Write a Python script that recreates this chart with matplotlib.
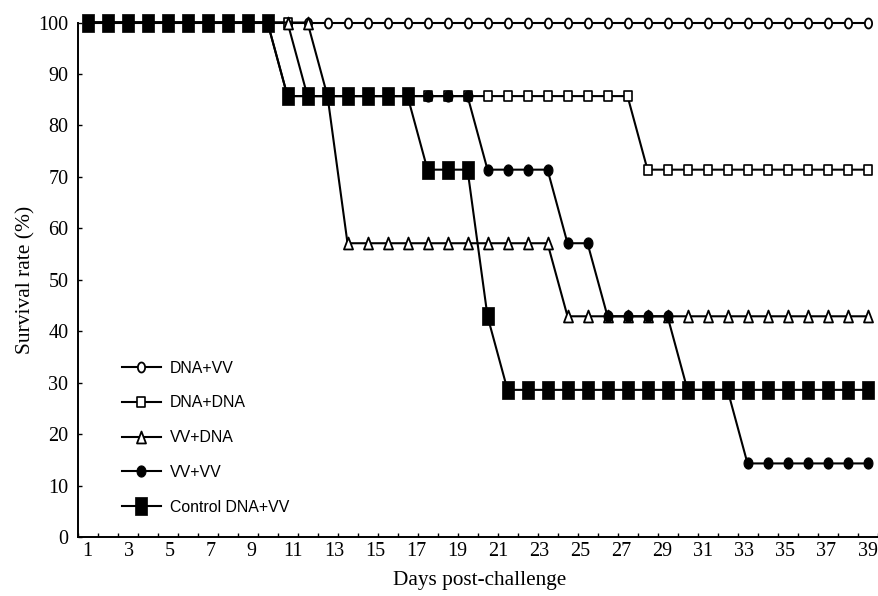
import numpy as np
import matplotlib
matplotlib.use("Agg")
import matplotlib.pyplot as plt
from matplotlib.path import Path

# ---------------- data ----------------
days = list(range(1, 41))
x_tick_labels = ['1', '3', '5', '7', '9', '11', '13', '15', '17', '19',
                 '21', '23', '25', '27', '29', '31', '33', '35', '37', '39']
y_ticks = [0, 10, 20, 30, 40, 50, 60, 70, 80, 90, 100]

series_names = ['DNA+VV', 'DNA+DNA', 'VV+DNA', 'VV+VV', 'Control DNA+VV']

dna_vv = [100, 100, 100, 100, 100, 100, 100, 100, 100, 100,
          100, 100, 100, 100, 100, 100, 100, 100, 100, 100,
          100, 100, 100, 100, 100, 100, 100, 100, 100, 100,
          100, 100, 100, 100, 100, 100, 100, 100, 100, 100]
dna_dna = [100, 100, 100, 100, 100, 100, 100, 100, 100, 100,
           100, 85.7, 85.7, 85.7, 85.7, 85.7, 85.7, 85.7, 85.7, 85.7,
           85.7, 85.7, 85.7, 85.7, 85.7, 85.7, 85.7, 85.7, 71.4, 71.4,
           71.4, 71.4, 71.4, 71.4, 71.4, 71.4, 71.4, 71.4, 71.4, 71.4]
vv_dna = [100, 100, 100, 100, 100, 100, 100, 100, 100, 100,
          100, 100, 85.7, 57.1, 57.1, 57.1, 57.1, 57.1, 57.1, 57.1,
          57.1, 57.1, 57.1, 57.1, 42.9, 42.9, 42.9, 42.9, 42.9, 42.9,
          42.9, 42.9, 42.9, 42.9, 42.9, 42.9, 42.9, 42.9, 42.9, 42.9]
vv_vv = [100, 100, 100, 100, 100, 100, 100, 100, 100, 100,
         85.7, 85.7, 85.7, 85.7, 85.7, 85.7, 85.7, 85.7, 85.7, 85.7,
         71.4, 71.4, 71.4, 71.4, 57.1, 57.1, 42.9, 42.9, 42.9, 42.9,
         28.6, 28.6, 28.6, 14.3, 14.3, 14.3, 14.3, 14.3, 14.3, 14.3]
control = [100, 100, 100, 100, 100, 100, 100, 100, 100, 100,
           85.7, 85.7, 85.7, 85.7, 85.7, 85.7, 85.7, 71.4, 71.4, 71.4,
           42.9, 28.6, 28.6, 28.6, 28.6, 28.6, 28.6, 28.6, 28.6, 28.6,
           28.6, 28.6, 28.6, 28.6, 28.6, 28.6, 28.6, 28.6, 28.6, 28.6]

# ---------------- marker shapes (slightly tall, as in the reference) ----------------
def ellipse(aspect):
    t = np.linspace(0, 2 * np.pi, 64)
    v = np.column_stack([aspect * np.cos(t), np.sin(t)])
    return Path(v, closed=True)

def rect(aspect):
    v = [(-aspect, -1), (aspect, -1), (aspect, 1), (-aspect, 1), (-aspect, -1)]
    return Path(v, closed=True)

def tri(aspect):
    v = [(-aspect, -1), (aspect, -1), (0, 1), (-aspect, -1)]
    return Path(v, closed=True)

styles = [
    dict(marker=ellipse(0.72), ms=7.2, mfc='white', mec='black', mew=1.3),
    dict(marker=rect(0.72), ms=7.4, mfc='white', mec='black', mew=1.2),
    dict(marker=tri(0.76), ms=8.6, mfc='white', mec='black', mew=1.3),
    dict(marker=ellipse(0.8), ms=8.0, mfc='black', mec='black', mew=0.8),
    dict(marker=rect(0.72), ms=12.6, mfc='black', mec='black', mew=0.5),
]
all_series = [dna_vv, dna_dna, vv_dna, vv_vv, control]

# ---------------- figure ----------------
fig = plt.figure(figsize=(8.79, 5.96), dpi=100)
ax = fig.add_axes([0.0882, 0.0990, 0.9101, 0.8632])

for name, vals, st in zip(series_names, all_series, styles):
    ax.plot(days, vals, color='black', lw=1.5, label=name, clip_on=False, **st)

ax.set_xlim(0.5, 40.5)
ax.set_ylim(0, 100)

for s in ['top', 'right']:
    ax.spines[s].set_visible(False)
for s in ['left', 'bottom']:
    ax.spines[s].set_linewidth(1.4)

serif = 'Liberation Serif'
# tick marks between categories
ax.set_xticks(np.arange(0.5, 41, 1.0))
ax.set_xticklabels([])
ax.tick_params(axis='x', which='major', direction='in', length=3.2, width=1.0)
# labels (no marks)
ax.set_xticks(np.linspace(1, 40, len(x_tick_labels)), minor=True)
ax.set_xticklabels(x_tick_labels, minor=True, fontfamily=serif, fontsize=14.5)
ax.tick_params(axis='x', which='minor', length=0, pad=3.8)

ax.set_yticks(y_ticks)
ax.set_yticklabels([str(v) for v in y_ticks], fontfamily=serif, fontsize=14.5)
ax.tick_params(axis='y', direction='in', length=3.2, width=1.0, pad=6.6)

ax.set_xlabel('Days post-challenge', fontfamily=serif, fontsize=15.3)
ax.xaxis.set_label_coords(0.5025, -0.066)
ax.set_ylabel('Survival rate (%)', fontfamily=serif, fontsize=15.5)
ax.yaxis.set_label_coords(-0.052, 0.5)

leg = ax.legend(loc='upper left', bbox_to_anchor=(0.1388, 0.395),
                bbox_transform=fig.transFigure, frameon=False,
                borderpad=0, borderaxespad=0, handlelength=2.46,
                handletextpad=0.57, labelspacing=1.25,
                prop={'family': 'Liberation Sans', 'size': 11.4})

fig.savefig('out.png', dpi=100)
